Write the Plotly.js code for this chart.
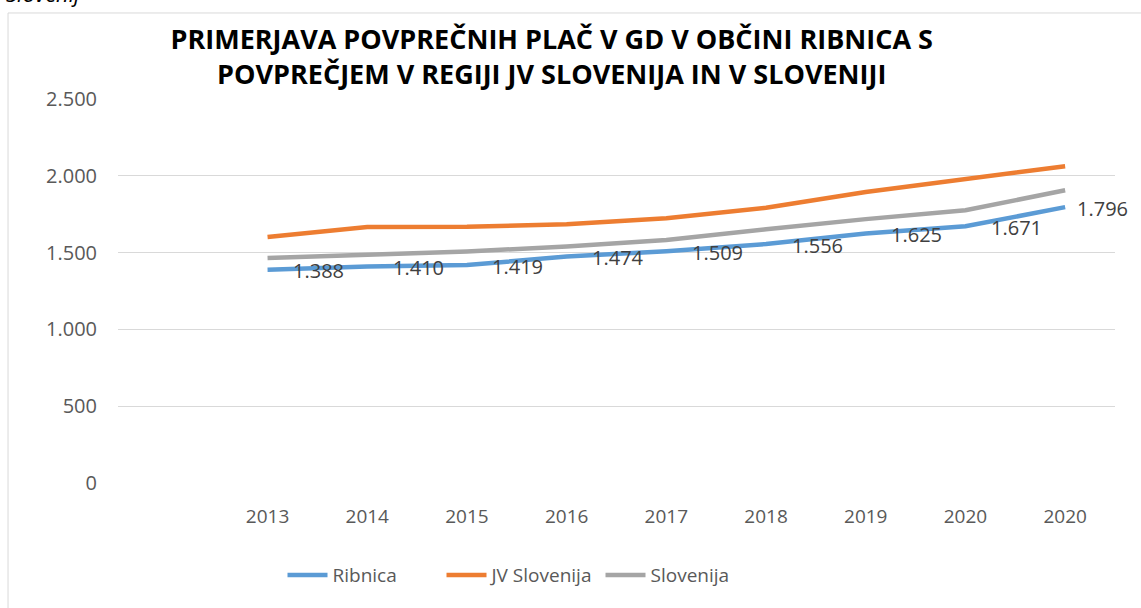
<!DOCTYPE html>
<html>
<head>
<meta charset="utf-8">
<script src="https://cdn.plot.ly/plotly-3.0.1.min.js"></script>
<style>html,body{margin:0;padding:0;background:#fff;}#chart{width:1141px;height:608px;}</style>
</head>
<body>
<div id="chart"></div>
<script>
// Category labels (first category slot is empty in the original)
const years = ["2013", "2014", "2015", "2016", "2017", "2018", "2019", "2020", "2020"];
const ribnica = [1388, 1410, 1419, 1474, 1509, 1556, 1625, 1671, 1796];
const jvSlovenija = [1602, 1667, 1668, 1685, 1724, 1792, 1895, 1980, 2062];
const slovenija = [1465, 1489, 1507, 1540, 1582, 1652, 1718, 1776, 1906];
const seriesNames = ["Ribnica", "JV Slovenija", "Slovenija"];
const colors = ["#5b9bd5", "#ed7d31", "#a5a5a5"];

const xIdx = years.map((_, i) => i + 1);
const font = "Open Sans, Noto Sans, sans-serif";

const traces = [ribnica, jvSlovenija, slovenija].map((ys, k) => ({
  x: xIdx, y: ys, type: "scatter", mode: "lines", name: seriesNames[k],
  line: {color: colors[k], width: 4.5, shape: "linear"},
  hoverinfo: "skip"
}));

function fmt(v) { return String(v).replace(/\B(?=(\d{3})+(?!\d))/g, "."); }

const annotations = ribnica.map((v, i) => {
  const last = i === ribnica.length - 1;
  return {
    x: xIdx[i], y: v, xref: "x", yref: "y", text: fmt(v), showarrow: false,
    xanchor: last ? "left" : "center", xshift: last ? 10 : 51, yshift: -1,
    font: {family: font, size: 20, color: "#404040"}
  };
});
annotations.push({
  xref: "paper", yref: "paper", x: -0.114, y: 1.232, xanchor: "left", yanchor: "bottom",
  text: "<i>Slovenij</i>", showarrow: false,
  font: {family: font, size: 22, color: "#000"}
});

const layout = {
  width: 1141, height: 608,
  margin: {l: 118, r: 26, t: 99, b: 125},
  paper_bgcolor: "#fff", plot_bgcolor: "#fff",
  separators: ",.",
  showlegend: true,
  title: {
    text: "<b>PRIMERJAVA POVPREČNIH PLAČ V GD V OBČINI RIBNICA S<br>POVPREČJEM V REGIJI JV SLOVENIJA IN V SLOVENIJI</b>",
    font: {family: font, size: 27, color: "#000"},
    x: 0.435, xanchor: "center", xref: "paper",
    y: 0.92, yanchor: "top", yref: "container"
  },
  xaxis: {
    range: [-0.5, 9.5], tickvals: xIdx, ticktext: years,
    showgrid: false, zeroline: false, showline: false, ticks: "",
    ticklabelstandoff: 20,
    tickfont: {family: font, size: 19, color: "#595959"}, fixedrange: true
  },
  yaxis: {
    range: [0, 2500], tickvals: [0, 500, 1000, 1500, 2000, 2500], tickformat: ",d",
    showgrid: true, gridcolor: "#d9d9d9", gridwidth: 1, zeroline: false, showline: false,
    ticks: "", ticklen: 0, ticklabelstandoff: 20,
    tickfont: {family: font, size: 20, color: "#595959"},
    fixedrange: true
  },
  legend: {
    orientation: "h", x: 0.165, xanchor: "left", y: -0.24, yanchor: "middle",
    font: {family: font, size: 19, color: "#595959"}, itemwidth: 40,
    entrywidth: 104, entrywidthmode: "pixels"
  },
  shapes: [{
    type: "rect", xref: "paper", yref: "paper",
    x0: -0.1103, x1: 1.3, y0: -0.5, y1: 1.224,
    line: {color: "#d9d9d9", width: 1}, fillcolor: "rgba(0,0,0,0)", layer: "below"
  }],
  annotations: annotations
};

Plotly.newPlot("chart", traces, layout, {displayModeBar: false, staticPlot: true});
</script>
</body>
</html>
